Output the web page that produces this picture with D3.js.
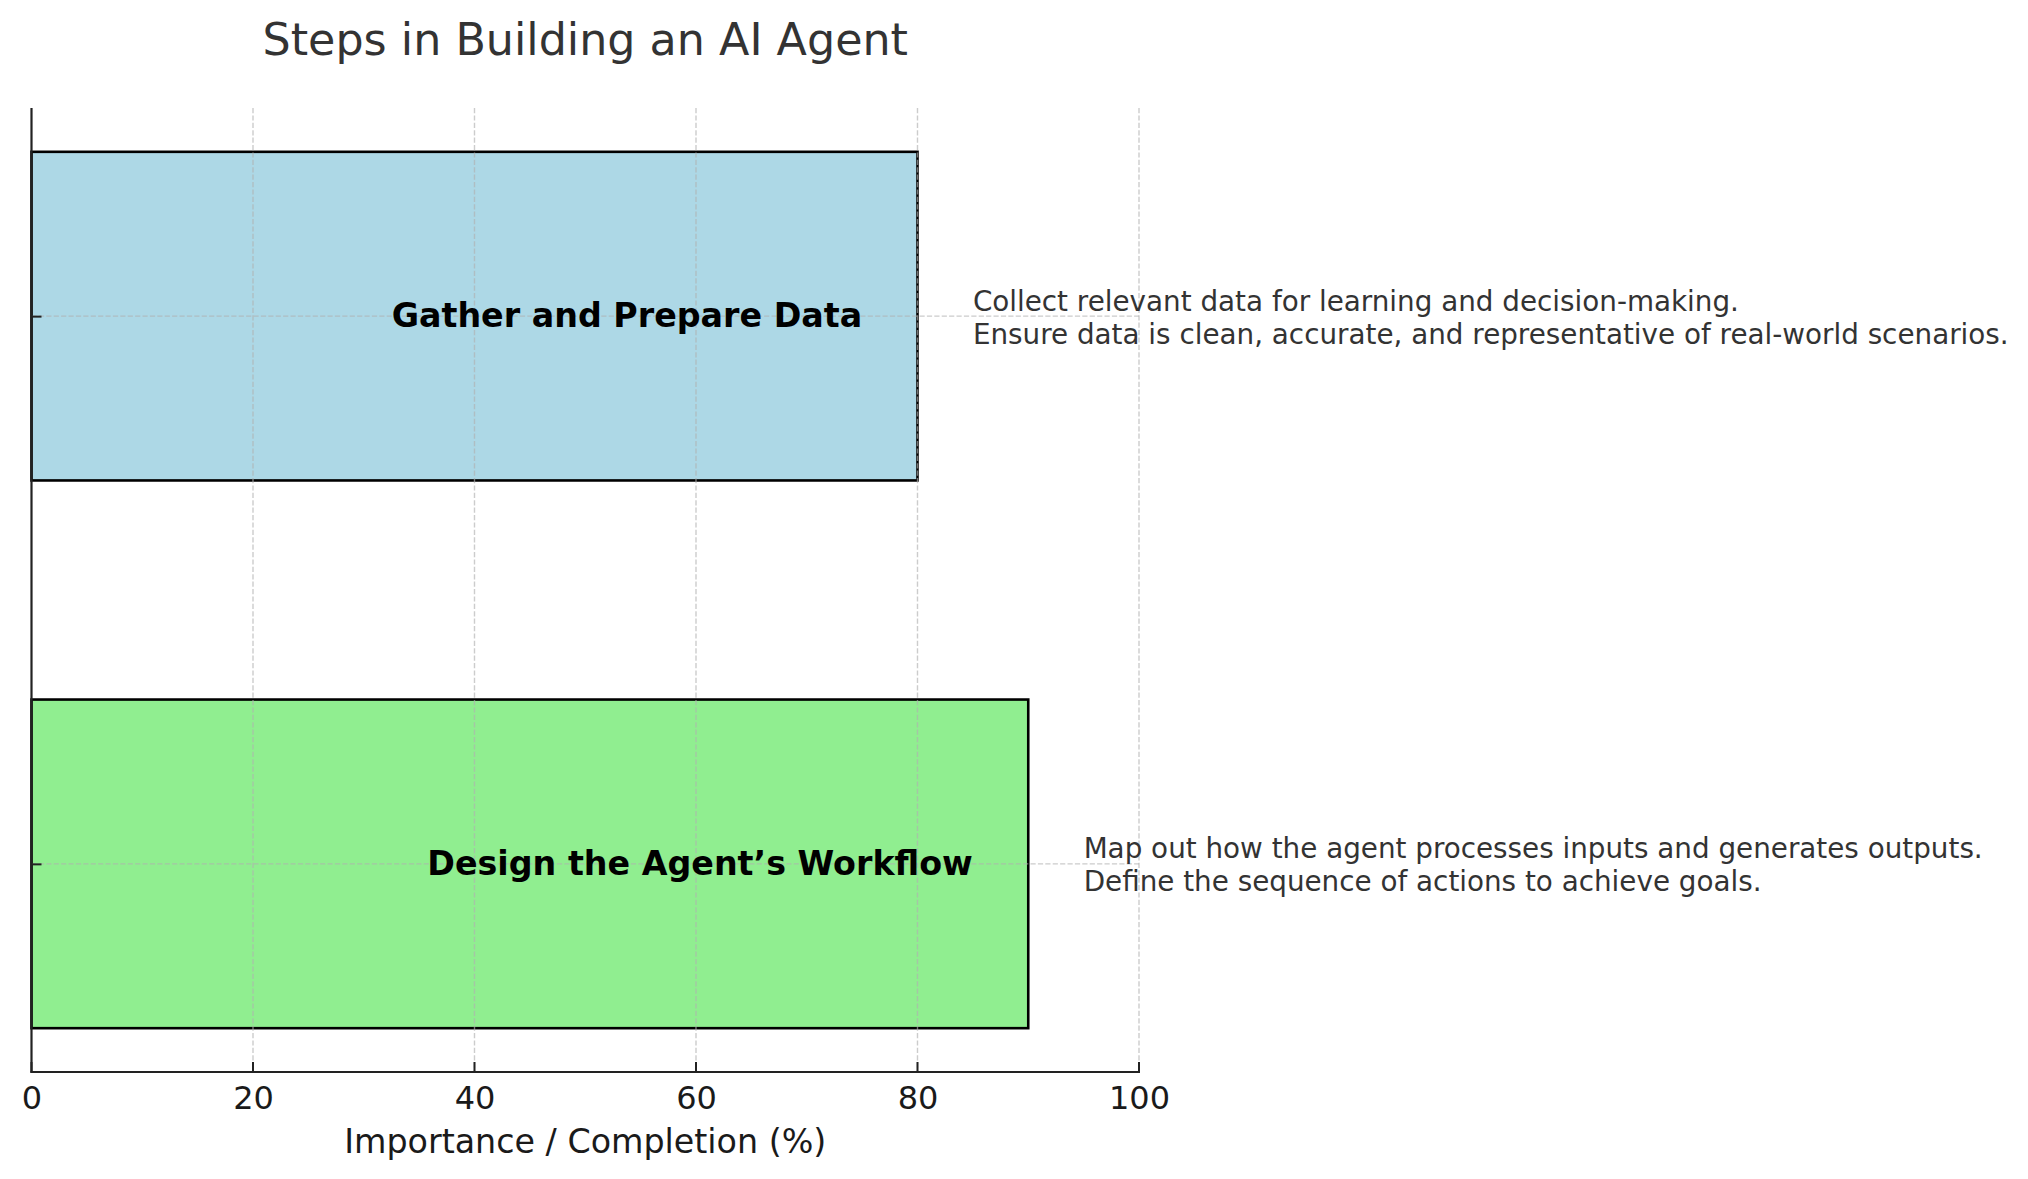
<!DOCTYPE html>
<html>
<head>
<meta charset="utf-8">
<script src="https://cdn.jsdelivr.net/npm/d3@7"></script>
<style>
  html, body { margin: 0; padding: 0; background: #fff; }
  svg { display: block; }
  text { font-family: "DejaVu Sans", sans-serif; }
</style>
</head>
<body>
<svg id="chart" width="2028" height="1179"></svg>
<script>
// ---- data ----
const steps = ["Design the Agent\u2019s Workflow", "Gather and Prepare Data"];
const values = [90, 80];
const colors = ["#90EE90", "#ADD8E6"];
const descriptions = [
  ["Map out how the agent processes inputs and generates outputs.",
   "Define the sequence of actions to achieve goals."],
  ["Collect relevant data for learning and decision-making.",
   "Ensure data is clean, accurate, and representative of real-world scenarios."]
];
const xTicks = [0, 20, 40, 60, 80, 100];
const titleText = "Steps in Building an AI Agent";
const xLabel = "Importance / Completion (%)";

(function () {
// ---- layout ----
const svg = d3.select("#chart");
const mLeft = 31.5, mRight = 1139, mTop = 108, mBottom = 1072;
const barH = 0.6;

const x = d3.scaleLinear().domain([0, 100]).range([mLeft, mRight]);
const y = d3.scaleLinear().domain([-0.38, 1.38]).range([mBottom, mTop]);

// bars
svg.append("g").selectAll("rect")
  .data(values)
  .join("rect")
  .attr("x", x(0))
  .attr("y", (d, i) => y(i + barH / 2))
  .attr("width", d => x(d) - x(0))
  .attr("height", (d, i) => y(i - barH / 2) - y(i + barH / 2))
  .attr("fill", (d, i) => colors[i])
  .attr("stroke", "#000")
  .attr("stroke-width", 2.6);

// grid (drawn above bars)
const grid = svg.append("g")
  .attr("stroke", "#b0b0b0")
  .attr("stroke-opacity", 0.65)
  .attr("stroke-width", 1.4)
  .attr("stroke-dasharray", "5.2,2.2");
grid.selectAll("line.vx")
  .data(xTicks.slice(1))
  .join("line")
  .attr("class", "vx")
  .attr("x1", d => x(d)).attr("x2", d => x(d))
  .attr("y1", mTop).attr("y2", mBottom);
grid.selectAll("line.hy")
  .data(steps)
  .join("line")
  .attr("class", "hy")
  .attr("x1", mLeft).attr("x2", mRight)
  .attr("y1", (d, i) => y(i)).attr("y2", (d, i) => y(i));

// x axis
const xAxis = d3.axisBottom(x).tickValues(xTicks).tickSize(0).tickPadding(14)
  .tickFormat(d3.format("d"));
const gx = svg.append("g").attr("transform", `translate(0,${mBottom})`).call(xAxis);
gx.select(".domain").remove();
gx.selectAll("text").attr("font-size", 32).attr("fill", "#1a1a1a")
  .attr("font-family", "DejaVu Sans").attr("dy", "0.71em");
// inward ticks
svg.append("g").selectAll("line")
  .data(xTicks)
  .join("line")
  .attr("x1", d => x(d)).attr("x2", d => x(d))
  .attr("y1", mBottom).attr("y2", mBottom - 10)
  .attr("stroke", "#222").attr("stroke-width", 2);

// y axis (no labels, inward ticks)
const yAxis = d3.axisRight(y).tickValues(steps.map((d, i) => i)).tickSize(10).tickFormat("");
const gy = svg.append("g").attr("transform", `translate(${mLeft},0)`).call(yAxis);
gy.select(".domain").remove();
gy.selectAll("line").attr("stroke", "#222").attr("stroke-width", 2);

// spines
svg.append("line").attr("x1", mLeft).attr("x2", mLeft).attr("y1", mTop).attr("y2", mBottom + 1)
  .attr("stroke", "#222").attr("stroke-width", 2.2);
svg.append("line").attr("x1", mLeft - 1).attr("x2", mRight + 1).attr("y1", mBottom).attr("y2", mBottom)
  .attr("stroke", "#222").attr("stroke-width", 2.2);

// bar labels
svg.append("g").selectAll("text")
  .data(steps)
  .join("text")
  .attr("x", (d, i) => x(values[i] - 5))
  .attr("y", (d, i) => y(i))
  .attr("dy", "0.34em")
  .attr("text-anchor", "end")
  .attr("font-size", 33.3)
  .attr("font-weight", "bold")
  .attr("fill", "#000")
  .text(d => d);

// descriptions
const desc = svg.append("g").selectAll("text")
  .data(descriptions)
  .join("text")
  .attr("x", (d, i) => x(values[i] + 5))
  .attr("y", (d, i) => y(i))
  .attr("font-size", 27.8)
  .attr("fill", "#333");
desc.selectAll("tspan")
  .data(d => d)
  .join("tspan")
  .attr("x", function () { return d3.select(this.parentNode).attr("x"); })
  .attr("dy", (d, j) => j === 0 ? "-0.2em" : "1.19em")
  .text(d => d);

// title
svg.append("text")
  .attr("x", (mLeft + mRight) / 2)
  .attr("y", 54.5)
  .attr("text-anchor", "middle")
  .attr("font-size", 44.4)
  .attr("fill", "#333")
  .text(titleText);

// x label
svg.append("text")
  .attr("x", (mLeft + mRight) / 2)
  .attr("y", 1153)
  .attr("text-anchor", "middle")
  .attr("font-size", 33.3)
  .attr("fill", "#1a1a1a")
  .text(xLabel);
})();
</script>
</body>
</html>
